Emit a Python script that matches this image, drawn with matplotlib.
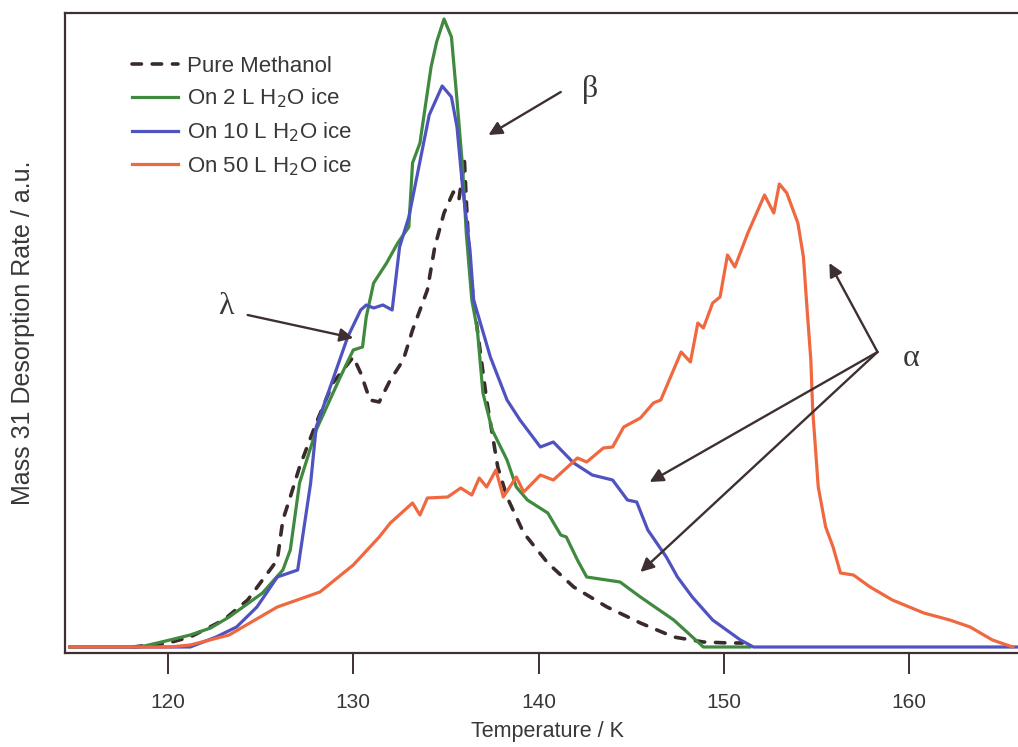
import matplotlib.pyplot as plt

plt.rcParams["font.family"] = ["Liberation Sans", "DejaVu Sans"]
SERIF = ["Liberation Serif", "DejaVu Serif"]

# Temperature (K) and desorption rate (a.u.)
methanol_T = [118.1, 120.0, 121.2, 123.0, 124.3, 125.1, 125.9, 126.2, 126.6, 127.1,
              128.0, 128.9, 130.0, 130.4, 130.9, 131.4, 132.0, 132.7, 133.2, 134.0,
              134.4, 134.9, 135.4, 135.7, 136.0, 136.1, 136.3, 136.7, 137.2, 137.8,
              138.3, 139.2, 140.5, 141.9, 143.7, 145.5, 147.3, 148.9, 150.3, 151.0]
methanol_v = [0, 4, 10, 27, 47, 67, 87, 127, 150, 180,
              224, 264, 290, 274, 247, 245, 267, 287, 317, 357,
              400, 434, 455, 447, 487, 447, 377, 317, 247, 180,
              150, 114, 84, 60, 40, 24, 10, 5, 4, 4]

ice2_T = [114.7, 118.5, 120.1, 121.2, 122.3, 123.3, 125.1, 126.2, 126.6, 127.1,
          128.0, 129.3, 130.0, 130.5, 130.7, 131.1, 131.8, 132.4, 133.0, 133.2,
          133.6, 134.2, 134.5, 134.9, 135.3, 135.6, 135.9, 136.1, 136.4, 136.7,
          137.0, 137.5, 138.3, 138.8, 139.4, 140.5, 141.2, 141.5, 142.1, 142.6,
          144.4, 145.5, 147.3, 148.9, 151.4]
ice2_v = [0, 0, 7, 12, 19, 30, 54, 77, 97, 164,
          217, 270, 297, 300, 330, 364, 384, 404, 420, 484,
          504, 580, 605, 628, 610, 547, 480, 414, 347, 317,
          254, 217, 187, 160, 147, 134, 112, 110, 87, 70,
          65, 50, 27, 0, 0]

ice10_T = [114.7, 121.2, 122.6, 123.7, 124.8, 125.9, 127.0, 127.7, 128.0, 128.7,
           129.7, 130.4, 130.7, 131.1, 131.6, 132.1, 132.5, 133.0, 134.1, 134.8,
           135.3, 135.6, 135.9, 136.3, 136.5, 137.4, 138.3, 139.0, 140.1, 140.8,
           141.9, 142.9, 144.0, 144.8, 145.3, 145.9, 146.9, 147.5, 148.3, 149.4,
           150.9, 151.6, 166.5]
ice10_v = [0, 0, 10, 20, 40, 70, 77, 164, 220, 257,
           310, 337, 342, 339, 342, 337, 400, 430, 532, 561,
           550, 520, 460, 397, 347, 290, 247, 227, 200, 205,
           184, 172, 167, 147, 145, 117, 90, 70, 50, 27,
           7, 0, 0]

ice50_T = [114.7, 120.1, 121.2, 123.3, 125.9, 128.2, 130.0, 131.4, 132.0, 133.2,
           133.6, 134.0, 135.1, 135.8, 136.4, 136.8, 137.2, 137.7, 138.1, 138.8,
           139.2, 140.1, 140.8, 142.1, 142.6, 143.5, 144.0, 144.6, 145.5, 146.2,
           146.6, 147.7, 148.2, 148.6, 148.9, 149.4, 149.8, 150.2, 150.6, 151.3,
           152.2, 152.7, 153.0, 153.4, 154.0, 154.3, 154.5, 154.7, 154.8, 155.1,
           155.5, 155.9, 156.3, 157.0, 157.9, 159.1, 160.8, 162.2, 163.3, 164.5,
           165.6]
ice50_v = [0, 0, 2, 12, 40, 55, 82, 110, 124, 144,
           132, 149, 150, 159, 152, 169, 160, 177, 150, 170,
           155, 172, 167, 189, 185, 199, 200, 220, 229, 244,
           247, 295, 285, 324, 319, 344, 350, 392, 380, 414,
           452, 434, 463, 454, 424, 390, 337, 287, 237, 160,
           120, 100, 74, 72, 60, 47, 34, 27, 20, 7,
           0]

labels = ["Pure Methanol", "On 2 L H$_2$O ice", "On 10 L H$_2$O ice", "On 50 L H$_2$O ice"]
x_ticks = [120, 130, 140, 150, 160]

INK = "#3e3030"
TEXT = "#383838"

fig = plt.figure(figsize=(10.18, 7.47), dpi=100)
ax = fig.add_axes([65 / 1018, 94 / 747, 965 / 1018, 640 / 747])

ax.plot(methanol_T, methanol_v, color="#3a2a2a", lw=2.6, dashes=(2.6, 3.0),
        dash_capstyle="round", label=labels[0])
ax.plot(ice2_T, ice2_v, color="#3f8a3f", lw=2.3, label=labels[1])
ax.plot(ice10_T, ice10_v, color="#4f53c0", lw=2.3, label=labels[2])
ax.plot(ice50_T, ice50_v, color="#f06840", lw=2.3, label=labels[3])

ax.set_xlim(114.44, 166.53)
ax.set_ylim(-6, 634)
ax.set_xticks(x_ticks)
ax.set_yticks([])
ax.tick_params(axis="x", direction="out", length=15, width=1.4, color=INK,
               labelcolor=TEXT, labelsize=15, pad=14)
for spine in ax.spines.values():
    spine.set_color(INK)
    spine.set_linewidth(1.6)

ax.set_xlabel("Temperature / K", fontsize=15.5, color=TEXT, labelpad=6)
ax.set_ylabel("Mass 31 Desorption Rate / a.u.", fontsize=18, color=TEXT)
ax.yaxis.set_label_coords(-0.031, 0.5)

leg = ax.legend(loc="upper left", bbox_to_anchor=(0.069, 0.933), frameon=False,
                fontsize=16, handlelength=2.1, handletextpad=0.4, labelspacing=0.45,
                borderaxespad=0, borderpad=0)
for text in leg.get_texts():
    text.set_color(TEXT)

arrow = dict(arrowstyle="-|>", color=INK, lw=1.7, mutation_scale=20, shrinkA=0, shrinkB=0)
ax.annotate("", xy=(137.3, 512), xytext=(141.2, 555), arrowprops=arrow)
ax.text(142.8, 557, "β", fontsize=23, family=SERIF, color=TEXT, ha="center", va="center")

ax.annotate("", xy=(130.0, 309), xytext=(124.3, 332), arrowprops=arrow)
ax.text(123.1, 340, "λ", fontsize=23, family=SERIF, color=TEXT, ha="center", va="center")

for head in [(155.7, 384), (146.0, 165), (145.5, 75)]:
    ax.annotate("", xy=head, xytext=(158.3, 295), arrowprops=arrow)
ax.text(160.1, 289, "α", fontsize=23, family=SERIF, color=TEXT, ha="center", va="center")

fig.savefig("out.png", dpi=100)
